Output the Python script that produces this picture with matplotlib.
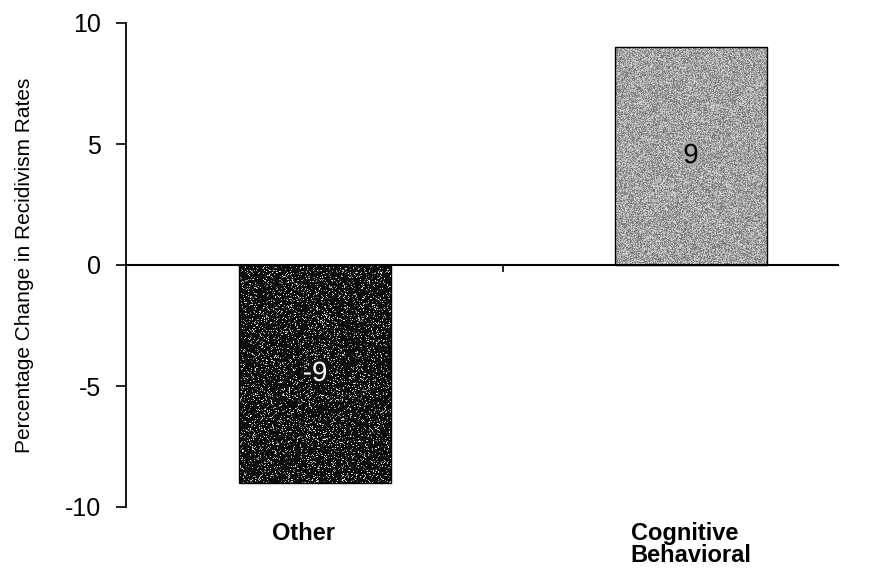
import numpy as np
import matplotlib
matplotlib.use("Agg")
import matplotlib.pyplot as plt
import matplotlib.patheffects as pe
from matplotlib import font_manager

# Chart data
categories = ["Other", "Cognitive\nBehavioral"]
values = [-9, 9]
value_labels = ["-9", "9"]
y_ticks = [-10, -5, 0, 5, 10]

plt.rcParams['font.family'] = ['Liberation Sans', 'DejaVu Sans']
installed = {f.name for f in font_manager.fontManager.ttflist}
narrow = 'Liberation Sans Narrow' if 'Liberation Sans Narrow' in installed else 'Liberation Sans'

W, H = 869, 578
fig = plt.figure(figsize=(W / 100, H / 100), dpi=100)
ax = fig.add_axes([126 / W, 71 / H, (838 - 126) / W, (507 - 23) / H])

x = np.arange(len(categories))
bar_width = 0.405

# Speckled fill textures for the two bars
rng = np.random.default_rng(7)
bars = ax.bar(x, values, width=bar_width, color='none', edgecolor='black',
              linewidth=1.0, zorder=3)
tex_dark = rng.random((220, 155))
tex_dark = np.where(tex_dark > 0.87, 0.4 + 0.6 * rng.random(tex_dark.shape),
                    0.1 * rng.random(tex_dark.shape))
tex_light = np.clip(0.64 + 0.42 * (rng.random((220, 155)) - 0.5), 0, 1)
for bar, tex in zip(bars, [tex_dark, tex_light]):
    x0, y0 = bar.get_x(), bar.get_y()
    w, h = bar.get_width(), bar.get_height()
    im = ax.imshow(tex, cmap='gray', vmin=0, vmax=1, interpolation='nearest',
                   extent=(x0, x0 + w, min(y0, y0 + h), max(y0, y0 + h)),
                   aspect='auto', zorder=2)
    im.set_clip_path(bar)

ax.set_xlim(-0.503, 1.391)
ax.set_ylim(-10, 10)

# Value labels inside bars
for xi, v, lab in zip(x, values, value_labels):
    neg = v < 0
    ax.text(xi, v / 2, lab, ha='center', va='center', fontsize=20,
            color='white' if neg else 'black', zorder=4,
            path_effects=[pe.withStroke(linewidth=4,
                                        foreground='#111111' if neg else '#a8a8a8')])

# Axes styling
for side in ['top', 'right']:
    ax.spines[side].set_visible(False)
ax.spines['bottom'].set_position(('data', 0))
ax.spines['bottom'].set_linewidth(1.5)
ax.spines['left'].set_linewidth(1.3)
ax.spines['bottom'].set_zorder(5)

ax.set_yticks(y_ticks)
ax.set_yticklabels([str(t) for t in y_ticks], fontsize=18)
ax.tick_params(axis='y', direction='out', length=7.2, width=1.2, pad=11)

ax.set_xticks([0.5])
ax.set_xticklabels([''])
ax.tick_params(axis='x', direction='out', length=5, width=1.2)

# Category labels below the plot
for xi, cat in zip(x, categories):
    ax.annotate(cat, xy=(xi, 0), xycoords=('data', 'axes fraction'),
                xytext=(-8 if xi == 0 else 0, -11), textcoords='offset points',
                ha='center', va='top', fontsize=17, fontweight='bold',
                multialignment='left', linespacing=0.95)

ax.set_ylabel("Percentage Change in Recidivism Rates", fontsize=15,
              family=[narrow, 'DejaVu Sans'], labelpad=22)

fig.savefig("out.png", dpi=100)
